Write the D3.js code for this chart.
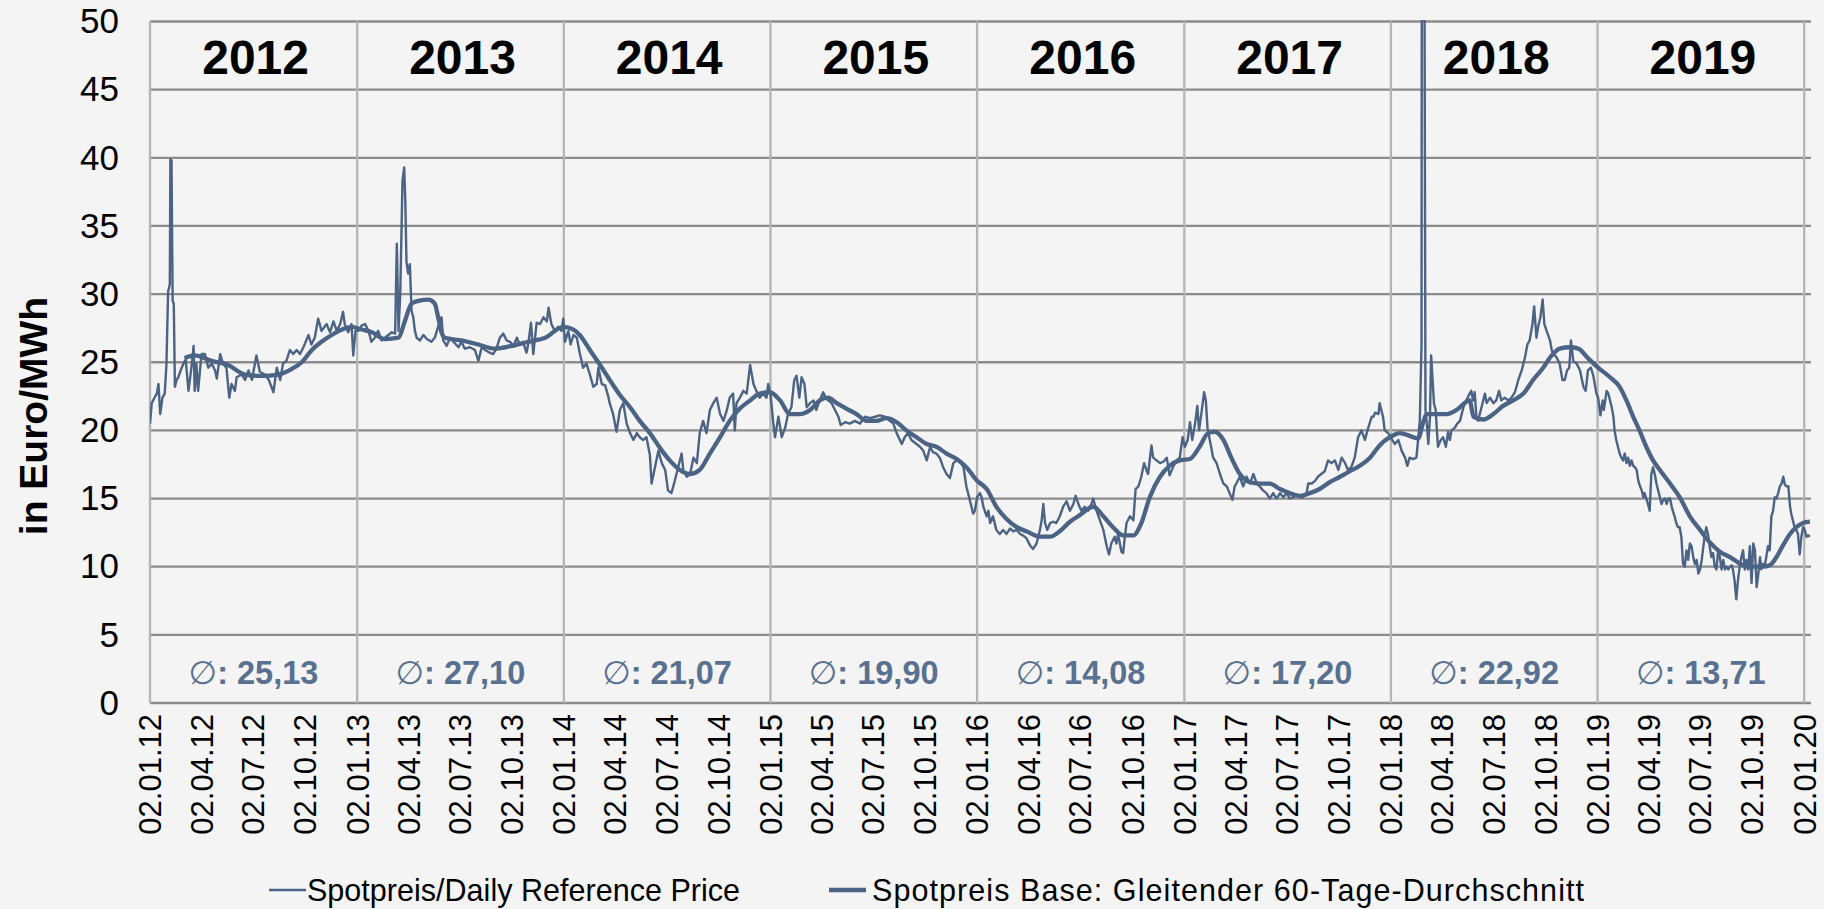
<!DOCTYPE html>
<html>
<head>
<meta charset="utf-8">
<script src="https://cdn.jsdelivr.net/npm/d3@7"></script>
<style>
  html, body { margin: 0; padding: 0; background: #f4f4f4; }
  svg { display: block; font-family: "Liberation Sans", Arial, sans-serif; }
</style>
</head>
<body>
<div id="chart"></div>
<script>
// x = days since 02.01.2012, value in Euro/MWh
const spot2012 = [[0,20.5],[3,22.0],[8,22.4],[12,22.7],[15,23.4],[18,21.2],[22,22.4],[26,22.7],[29,24.8],[32,30.2],[35,30.7],[36,39.9],[38,39.8],[40,29.5],[42,29.3],[44,23.2],[47,23.7],[50,23.9],[56,24.6],[59,24.9],[63,25.2],[68,22.9],[74,24.9],[77,26.2],[79,22.9],[82,24.9],[85,22.9],[91,25.6],[97,25.6],[103,24.6],[109,24.9],[115,24.4],[118,23.8],[124,25.6],[129,24.9],[135,24.6],[140,22.4],[144,23.4],[150,22.9],[153,23.9],[162,24.1],[168,23.7],[174,24.4],[180,23.7],[188,25.5],[194,24.3],[203,24.1],[210,23.7],[218,22.8],[224,24.6],[230,23.7],[235,24.9],[241,25.1],[247,25.9],[253,25.6],[259,25.9],[265,25.6],[271,26.1],[280,27.0],[285,26.3],[291,26.8],[297,28.2],[303,27.3],[312,27.8],[318,27.2],[324,28.0],[330,27.3],[336,27.8],[341,28.7],[344,27.8],[350,27.2],[356,27.8],[359,25.5],[363,27.3]];
const spot2013 = [[368,27.3],[374,27.7],[380,27.8],[386,27.3],[391,26.5],[397,26.8],[403,27.3],[409,26.6],[415,26.8],[421,27.0],[427,27.2],[433,27.1],[436,33.7],[439,27.3],[442,30.0],[444,34.1],[446,38.3],[449,39.3],[451,36.8],[453,32.4],[456,31.5],[459,32.2],[462,28.8],[465,28.3],[468,27.3],[471,26.8],[477,26.6],[483,27.0],[489,26.7],[497,26.5],[503,26.8],[509,27.6],[515,28.3],[518,26.6],[524,26.2],[530,26.8],[536,26.5],[545,26.1],[550,26.5],[556,26.0],[565,26.1],[574,25.9],[580,25.1],[586,26.1],[592,25.9],[600,25.7],[606,25.6],[612,26.0],[618,26.8],[624,27.1],[630,26.6],[636,26.5],[642,26.2],[648,26.8],[653,26.3],[659,26.5],[665,25.7],[668,26.3],[673,27.9],[677,25.6],[683,27.9],[689,27.8],[695,28.3],[701,28.0],[704,29.0],[709,27.8],[715,27.3],[721,27.6],[727,27.3]];
const spot2014 = [[730,28.2],[733,26.5],[739,27.3],[743,26.3],[748,27.0],[754,26.8],[759,25.7],[765,24.6],[771,24.9],[777,24.1],[783,23.2],[789,23.4],[792,24.6],[798,23.4],[804,23.3],[810,22.4],[812,22.0],[818,21.2],[824,19.9],[830,21.5],[836,22.0],[842,20.5],[848,19.8],[854,19.3],[860,19.8],[865,19.5],[871,19.3],[877,19.5],[883,18.2],[886,16.1],[892,17.3],[898,18.5],[904,17.6],[910,17.1],[915,15.6],[921,15.4],[927,16.3],[933,17.3],[939,18.3],[942,17.1],[948,16.6],[954,16.8],[960,18.0],[966,17.6],[971,19.8],[977,20.7],[983,19.8],[989,21.5],[995,22.0],[1001,22.4],[1007,21.2],[1013,20.7],[1019,21.5],[1024,22.4],[1030,22.7],[1033,20.0],[1036,22.0],[1042,22.4],[1048,22.9],[1054,22.7],[1060,24.8],[1066,23.4],[1071,22.9],[1077,22.4],[1083,22.7],[1089,22.4],[1092,23.4]];
const spot2015 = [[1096,22.7],[1101,20.5],[1104,19.5],[1110,21.0],[1116,19.5],[1122,20.2],[1127,21.2],[1133,21.7],[1138,23.7],[1142,24.0],[1147,22.4],[1151,23.9],[1156,23.4],[1160,21.7],[1166,22.0],[1172,22.2],[1177,21.5],[1183,22.2],[1189,22.8],[1195,22.3],[1204,22.0],[1210,21.5],[1216,21.0],[1220,20.4],[1228,20.6],[1236,20.5],[1245,20.7],[1254,20.5],[1263,21.0],[1272,20.9],[1281,21.0],[1289,21.1],[1298,21.0],[1307,20.7],[1313,20.5],[1319,19.8],[1328,19.0],[1333,19.5],[1339,19.8],[1345,19.3],[1354,19.0],[1360,18.8],[1366,18.5],[1372,17.8],[1378,18.8],[1383,18.4],[1389,18.3],[1395,18.0],[1401,17.3],[1407,16.8],[1413,16.5],[1419,17.6],[1425,17.8],[1431,17.7],[1437,17.3],[1442,15.9],[1448,14.9],[1454,13.9],[1457,14.1]];
const spot2016 = [[1461,15.1],[1466,15.4],[1469,15.1],[1472,14.4],[1478,13.7],[1481,14.1],[1484,13.2],[1489,13.7],[1495,12.7],[1501,12.4],[1507,12.7],[1513,12.4],[1519,12.8],[1525,12.6],[1531,12.7],[1537,12.4],[1542,12.3],[1548,12.1],[1554,11.6],[1560,11.3],[1566,11.7],[1572,12.7],[1575,13.4],[1578,14.6],[1581,13.2],[1585,12.7],[1590,13.2],[1595,13.3],[1601,13.2],[1607,13.7],[1613,14.4],[1619,14.8],[1625,14.1],[1631,14.6],[1635,15.2],[1640,14.6],[1645,14.1],[1651,14.4],[1657,14.1],[1663,14.6],[1666,15.0],[1672,14.1],[1678,13.4],[1684,12.7],[1690,11.5],[1694,10.9],[1698,11.7],[1704,12.2],[1707,11.7],[1710,12.4],[1716,11.1],[1719,11.0],[1722,12.2],[1725,13.2],[1731,13.7],[1737,13.4],[1741,15.7],[1746,15.9],[1751,16.6],[1756,17.6],[1760,17.1],[1763,16.8],[1769,18.9],[1772,18.0],[1778,17.8],[1784,17.6],[1790,17.7],[1796,18.0],[1801,16.7],[1807,17.3],[1813,17.8],[1819,18.0],[1824,19.5]];
const spot2017 = [[1828,18.8],[1833,19.3],[1837,20.6],[1841,19.3],[1846,20.5],[1850,21.8],[1853,20.0],[1857,21.2],[1862,22.8],[1865,22.2],[1868,20.2],[1872,19.3],[1878,18.0],[1884,17.6],[1890,16.8],[1896,16.1],[1902,15.9],[1907,15.4],[1912,14.9],[1916,15.9],[1919,16.1],[1925,16.6],[1931,15.9],[1937,16.6],[1943,16.1],[1949,16.8],[1955,16.1],[1960,15.9],[1966,15.6],[1972,15.4],[1978,15.0],[1984,15.4],[1990,15.0],[1996,15.4],[2002,15.1],[2008,15.4],[2013,15.0],[2019,15.1],[2025,15.2],[2031,15.1],[2037,15.1],[2043,15.4],[2046,16.1],[2052,16.1],[2058,16.3],[2063,16.6],[2069,16.8],[2075,17.0],[2081,17.8],[2087,17.6],[2093,17.8],[2099,17.1],[2105,18.0],[2111,17.6],[2116,17.1],[2122,17.3],[2128,18.0],[2134,19.5],[2140,20.0],[2146,19.3],[2152,20.2],[2158,21.0],[2161,21.0],[2164,21.3],[2170,21.2],[2172,22.0],[2175,21.5],[2178,21.0],[2181,20.0],[2187,19.8]];
const spot2018 = [[2193,19.4],[2199,19.0],[2205,19.3],[2211,18.5],[2217,18.0],[2221,17.4],[2225,18.0],[2231,17.9],[2237,18.0],[2240,19.3],[2243,20.7],[2246,26.3],[2247,80.0],[2250,75.0],[2253,21.5],[2256,20.2],[2258,19.0],[2261,21.0],[2263,25.5],[2265,24.1],[2268,22.0],[2271,21.5],[2275,18.8],[2280,19.3],[2284,19.5],[2289,18.8],[2293,19.9],[2296,19.3],[2299,20.0],[2305,20.2],[2309,20.5],[2314,20.7],[2320,21.7],[2325,22.2],[2331,22.7],[2334,22.9],[2337,22.2],[2340,22.8],[2343,21.0],[2346,20.7],[2352,21.7],[2358,22.7],[2361,22.0],[2367,22.4],[2373,22.0],[2378,22.2],[2383,22.9],[2387,22.2],[2393,22.4],[2399,22.2],[2405,22.4],[2411,22.8],[2417,23.7],[2423,24.4],[2429,25.4],[2433,26.3],[2437,26.6],[2442,27.8],[2445,29.1],[2449,26.8],[2452,27.6],[2456,28.3],[2460,29.6],[2463,27.8],[2467,27.3],[2473,26.6],[2476,25.9],[2479,25.6],[2484,25.4],[2490,24.9],[2495,23.7],[2499,23.7],[2503,24.4],[2507,24.6],[2510,26.6],[2514,25.1],[2520,24.9],[2526,24.4],[2532,23.2],[2536,22.9],[2540,24.4],[2545,24.6],[2549,24.1],[2555,22.7]];
const spot2019 = [[2558,22.4],[2562,21.1],[2566,22.2],[2568,21.5],[2573,22.9],[2576,22.7],[2579,22.2],[2582,21.7],[2585,21.0],[2587,20.0],[2590,19.3],[2593,18.8],[2596,18.3],[2599,18.0],[2602,17.8],[2605,18.3],[2608,17.6],[2611,18.0],[2614,17.4],[2617,17.8],[2620,17.4],[2623,17.3],[2626,17.1],[2629,16.3],[2632,15.9],[2635,15.6],[2638,15.1],[2640,15.4],[2643,15.0],[2646,14.6],[2649,14.1],[2652,16.8],[2655,17.3],[2658,16.8],[2661,16.1],[2664,15.6],[2667,15.1],[2670,14.6],[2673,14.9],[2676,15.0],[2679,14.6],[2682,15.0],[2685,15.0],[2688,14.4],[2690,14.1],[2693,13.7],[2696,13.2],[2699,12.9],[2702,12.9],[2705,12.2],[2708,10.2],[2711,10.0],[2714,11.2],[2717,10.5],[2720,11.7],[2723,11.5],[2726,10.7],[2729,10.2],[2732,10.5],[2735,9.5],[2738,9.8],[2741,10.5],[2743,11.2],[2746,12.2],[2749,12.9],[2752,12.4],[2755,11.5],[2758,10.7],[2761,11.0],[2764,10.0],[2767,9.8],[2770,11.2],[2773,10.7],[2776,9.8],[2779,10.5],[2782,9.8],[2785,10.0],[2788,9.8],[2791,10.0],[2794,10.1],[2796,9.8],[2799,9.0],[2802,7.6],[2805,9.0],[2808,10.0],[2811,10.7],[2814,11.2],[2817,9.8],[2820,10.5],[2823,9.8],[2826,11.5],[2829,8.8],[2832,11.7],[2835,11.2],[2838,8.5],[2841,9.5],[2844,10.7],[2846,9.8],[2849,10.2],[2852,10.0],[2855,10.7],[2858,11.5],[2861,11.2],[2864,13.7],[2867,14.1],[2870,15.1],[2873,15.0],[2876,15.4],[2879,15.9],[2882,16.1],[2885,16.6],[2888,16.0],[2891,15.9],[2894,15.9],[2897,14.4],[2899,13.9],[2902,13.4],[2905,12.9],[2908,12.7],[2911,12.4],[2914,10.9],[2917,12.2],[2920,12.9],[2923,12.7],[2926,12.2],[2929,12.3],[2932,12.2]];

// 60-day moving average
const movingAvg = [[61,25.3],[79,25.5],[109,25.1],[138,24.8],[168,24.1],[197,24.0],[227,24.1],[250,24.5],[268,25.0],[286,25.9],[303,26.5],[321,27.0],[339,27.4],[356,27.6],[374,27.4],[392,27.2],[415,26.7],[439,26.8],[450,28.0],[462,29.3],[474,29.5],[492,29.6],[503,29.3],[509,28.3],[515,27.2],[521,26.8],[550,26.6],[580,26.3],[609,26.0],[639,26.2],[668,26.5],[698,26.8],[730,27.6],[748,27.4],[759,27.0],[777,25.9],[795,24.8],[812,23.7],[830,22.6],[848,21.7],[865,20.7],[883,19.8],[901,18.7],[918,17.8],[936,17.1],[954,16.8],[971,17.1],[989,18.3],[1007,19.5],[1024,20.7],[1042,21.6],[1060,22.2],[1077,22.7],[1095,22.8],[1113,22.2],[1130,21.2],[1148,21.2],[1166,21.5],[1183,22.2],[1198,22.4],[1213,22.0],[1230,21.6],[1248,21.2],[1266,20.7],[1283,20.7],[1301,20.9],[1319,20.6],[1336,20.0],[1354,19.5],[1372,19.0],[1389,18.8],[1407,18.3],[1425,17.9],[1442,17.3],[1461,16.3],[1478,15.7],[1495,14.4],[1513,13.5],[1531,12.9],[1548,12.6],[1572,12.2],[1590,12.2],[1607,12.6],[1625,13.3],[1643,13.8],[1666,14.4],[1684,13.7],[1701,12.9],[1719,12.3],[1737,12.3],[1751,13.2],[1766,15.1],[1784,16.6],[1801,17.4],[1819,17.8],[1837,17.9],[1854,18.8],[1869,19.8],[1881,19.9],[1896,19.3],[1910,18.0],[1925,16.8],[1943,16.2],[1960,16.1],[1978,16.1],[1996,15.7],[2013,15.4],[2031,15.2],[2049,15.4],[2066,15.7],[2084,16.2],[2102,16.6],[2119,17.0],[2137,17.4],[2155,18.0],[2172,18.9],[2190,19.5],[2208,19.8],[2225,19.6],[2240,19.4],[2249,20.6],[2255,21.2],[2273,21.2],[2290,21.2],[2308,21.5],[2331,22.2],[2338,21.0],[2355,20.8],[2373,21.2],[2390,21.8],[2408,22.2],[2426,22.7],[2443,23.7],[2461,24.6],[2476,25.5],[2490,26.0],[2508,26.1],[2523,26.0],[2540,25.3],[2558,24.6],[2579,23.9],[2596,23.2],[2608,22.2],[2620,21.0],[2632,19.9],[2643,18.8],[2655,17.8],[2667,17.1],[2685,16.1],[2702,15.1],[2720,13.7],[2738,12.7],[2755,11.8],[2773,11.1],[2791,10.7],[2802,10.4],[2814,10.1],[2832,10.0],[2849,10.0],[2861,10.1],[2873,10.7],[2885,11.6],[2897,12.4],[2908,12.9],[2920,13.2],[2932,13.3]];

const years = ["2012", "2013", "2014", "2015", "2016", "2017", "2018", "2019"];
const averages = ["25,13", "27,10", "21,07", "19,90", "14,08", "17,20", "22,92", "13,71"];
const yTicks = [0, 5, 10, 15, 20, 25, 30, 35, 40, 45, 50];
const legendNames = ["Spotpreis/Daily Reference Price", "Spotpreis Base: Gleitender 60-Tage-Durchschnitt"];

const width = 1824, height = 909;
const lineColor = "#4b6384";
const start = Date.UTC(2012, 0, 2);
const toDate = d => new Date(start + d * 864e5);

const svg = d3.select("#chart").append("svg")
    .attr("width", width)
    .attr("height", height);

svg.append("rect").attr("width", width).attr("height", height).attr("fill", "#f4f4f4");

const x = d3.scaleUtc()
    .domain([new Date(start), new Date(Date.UTC(2020, 0, 14))])
    .range([150, 1811]);

const y = d3.scaleLinear()
    .domain([0, 50])
    .range([703, 21.5]);

const yearStarts = d3.range(2012, 2021).map(yr => new Date(Date.UTC(yr, 0, 2)));
const quarterTicks = [];
for (let yr = 2012; yr <= 2020; yr++) {
  for (let m = 0; m < 12; m += 3) {
    if (yr === 2020 && m > 0) break;
    quarterTicks.push(new Date(Date.UTC(yr, m, 2)));
  }
}

// horizontal grid
svg.append("g")
  .selectAll("line")
  .data(yTicks)
  .join("line")
    .attr("x1", x.range()[0])
    .attr("x2", x.range()[1])
    .attr("y1", d => y(d))
    .attr("y2", d => y(d))
    .attr("stroke", "#8c8c8c")
    .attr("stroke-width", 2.3);

// vertical grid at year starts
svg.append("g")
  .selectAll("line")
  .data(yearStarts)
  .join("line")
    .attr("x1", d => x(d))
    .attr("x2", d => x(d))
    .attr("y1", y(50))
    .attr("y2", y(0))
    .attr("stroke", "#b5b5b5")
    .attr("stroke-width", 2.3);

// y axis labels
const yAxis = svg.append("g")
    .attr("transform", `translate(${x.range()[0]},0)`)
    .call(d3.axisLeft(y).tickValues(yTicks).tickSize(0).tickPadding(31));
yAxis.select(".domain").remove();
yAxis.selectAll("text")
    .attr("fill", "#000")
    .style("font-size", "35px")
    .style("font-family", "'Liberation Sans', Arial, sans-serif");

// x axis labels, rotated
const xAxis = svg.append("g")
    .attr("transform", `translate(0,${y(0)})`)
    .call(d3.axisBottom(x).tickValues(quarterTicks).tickSize(0).tickFormat(d3.utcFormat("%d.%m.%y")));
xAxis.select(".domain").remove();
xAxis.selectAll("text")
    .attr("transform", "rotate(-90)")
    .attr("x", -11)
    .attr("y", 0)
    .attr("dy", "0.35em")
    .style("text-anchor", "end")
    .attr("fill", "#000")
    .style("font-size", "31px")
    .style("font-family", "'Liberation Sans', Arial, sans-serif");

// year headers and averages
const mids = years.map((yr, i) => (x(yearStarts[i]) + x(yearStarts[i + 1])) / 2);

svg.append("g")
  .selectAll("text")
  .data(years)
  .join("text")
    .attr("x", (d, i) => mids[i] + 2)
    .attr("y", 74)
    .attr("text-anchor", "middle")
    .style("font-size", "48px")
    .style("font-weight", "bold")
    .text(d => d);

const avg = svg.append("g")
  .selectAll("text")
  .data(averages)
  .join("text")
    .attr("x", (d, i) => mids[i])
    .attr("y", 684)
    .attr("text-anchor", "middle")
    .attr("fill", "#597191")
    .style("font-size", "32.5px")
    .style("font-weight", "bold");
avg.append("tspan").style("font-weight", "normal").style("font-family", "'DejaVu Sans', sans-serif").text("\u2205");
avg.append("tspan").text(d => ": " + d);

// lines
svg.append("clipPath").attr("id", "plotclip")
  .append("rect")
    .attr("x", x.range()[0]).attr("y", 20)
    .attr("width", x.range()[1] - x.range()[0]).attr("height", y(0) - 20);

const plot = svg.append("g").attr("clip-path", "url(#plotclip)");

const spot = [].concat(spot2012, spot2013, spot2014, spot2015, spot2016, spot2017, spot2018, spot2019);

const line = d3.line()
    .x(d => x(toDate(d[0])))
    .y(d => y(d[1]));

const smooth = d3.line()
    .curve(d3.curveMonotoneX)
    .x(d => x(toDate(d[0])))
    .y(d => y(d[1]));

plot.append("path")
    .attr("d", line(spot))
    .attr("fill", "none")
    .attr("stroke", lineColor)
    .attr("stroke-width", 2.4)
    .attr("stroke-linejoin", "round");

plot.append("path")
    .attr("d", smooth(movingAvg))
    .attr("fill", "none")
    .attr("stroke", lineColor)
    .attr("stroke-width", 4.3)
    .attr("stroke-linejoin", "round");

// y axis title
svg.append("text")
    .attr("transform", "translate(33,416) rotate(-90)")
    .attr("text-anchor", "middle")
    .attr("dy", "0.35em")
    .style("font-size", "39px")
    .style("font-weight", "bold")
    .text("in Euro/MWh");

// legend
const legend = svg.append("g");
const legendX = [269, 829];
const legendTextX = [307, 872];
const legendTextW = [433, 712];
const legendW = [2.4, 4.3];
legendNames.forEach((name, i) => {
  legend.append("line")
      .attr("x1", legendX[i]).attr("x2", legendX[i] + 37)
      .attr("y1", 890).attr("y2", 890)
      .attr("stroke", lineColor)
      .attr("stroke-width", legendW[i]);
  legend.append("text")
      .attr("x", legendTextX[i])
      .attr("y", 901)
      .attr("textLength", legendTextW[i])
      .attr("lengthAdjust", "spacing")
      .style("font-size", "30.5px")
      .text(name);
});
</script>
</body>
</html>
